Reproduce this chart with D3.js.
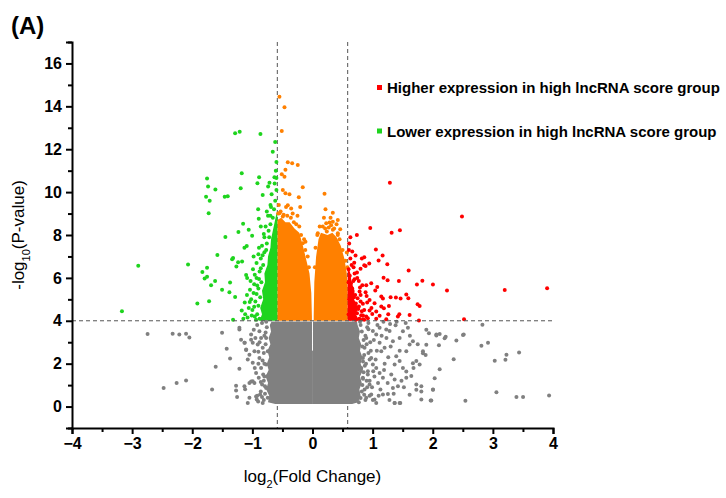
<html>
<head>
  <meta charset="utf-8">
  <script src="https://cdn.jsdelivr.net/npm/d3@7"></script>
  <style>
    body { margin: 0; background: #fff; }
    text { font-family: "Liberation Sans", Arial, sans-serif; }
    .tick text { font-weight: bold; font-size: 16px; }
  </style>
</head>
<body>
<script>
// tick labels
var xTicks = [-4, -3, -2, -1, 0, 1, 2, 3, 4];
var yTicks = [0, 2, 4, 6, 8, 10, 12, 14, 16];

// cut-offs: log2(1.5) and -log10(1e-4)
var fcCut = 0.585;
var pCut = 4;

// dense cores, read as envelopes [y, xLeft, xRight]
var grayCoreLeft = [[0.12,-0.62,0.004],[0.2,-0.74,0.004],[0.5,-0.72,0.004],[0.8,-0.77,0.004],[1.1,-0.74,0.004],
  [1.4,-0.78,0.004],[1.7,-0.73,0.004],[2.0,-0.76,0.004],[2.3,-0.72,0.004],[2.6,-0.75,0.004],[2.6,-0.75,-0.008],
  [2.9,-0.7,-0.008],[3.2,-0.73,-0.008],[3.5,-0.69,-0.008],[3.8,-0.71,-0.008],[3.97,-0.68,-0.008]];
var grayCoreRight = [[0.12,-0.004,0.66],[0.2,-0.004,0.76],[0.5,-0.004,0.8],[0.8,-0.004,0.78],[1.1,-0.004,0.82],
  [1.4,-0.004,0.79],[1.7,-0.004,0.84],[2.0,-0.004,0.8],[2.3,-0.004,0.83],[2.6,-0.004,0.79],[2.6,0.008,0.79],
  [2.9,0.008,0.81],[3.2,0.008,0.77],[3.5,0.008,0.79],[3.8,0.008,0.75],[3.97,0.008,0.74]];
var greenBand = [[4.0,-0.88,-0.585],[4.3,-0.84,-0.585],[4.6,-0.87,-0.585],[5.0,-0.82,-0.585],
  [5.4,-0.84,-0.585],[5.8,-0.79,-0.585],[6.2,-0.8,-0.585],[6.6,-0.75,-0.585],[7.0,-0.74,-0.585],
  [7.4,-0.7,-0.585],[7.8,-0.69,-0.585],[8.2,-0.66,-0.585],[8.6,-0.63,-0.585],[9.0,-0.6,-0.585]];
var redBand = [[4.0,0.585,0.78],[4.3,0.585,0.72],[4.6,0.585,0.76],[5.0,0.585,0.69],[5.4,0.585,0.7],
  [5.8,0.585,0.65],[6.2,0.585,0.63],[6.5,0.585,0.6]];
// orange lobes [x, bottom, top]
var orangeLeft = [[-0.585, 4, 8.7], [-0.52, 4, 8.8], [-0.45, 4, 8.6], [-0.38, 4, 8.6], [-0.3, 4, 8.3],
                  [-0.22, 4, 8.1], [-0.16, 4, 7.5], [-0.1, 4, 6.8], [-0.05, 4, 6.2], [-0.02, 4, 5.3], [-0.01, 4, 4.2]];
var orangeRight = [[0.02, 4, 4.2], [0.03, 4, 5.8], [0.06, 4, 7.0], [0.1, 4, 7.8], [0.14, 4, 8.1], [0.25, 4, 8.0],
                   [0.33, 4, 8.1], [0.4, 4, 7.9], [0.47, 4, 7.5], [0.53, 4, 6.9], [0.57, 4, 6.2], [0.585, 4, 5.5]];

// individual genes [log2FC, -log10 P]
var redPts = [[1.287,10.44],[2.486,8.86],[0.961,8.33],[0.738,8.0],[1.316,8.11],[1.454,8.22],[1.054,7.32],
  [1.166,7.04],[1.099,6.81],[1.244,6.64],[0.861,6.96],[0.821,6.9],[0.944,6.67],[0.861,6.59],[0.883,6.56],
  [0.799,6.43],[0.716,7.04],[0.661,7.23],[0.694,6.71],[0.683,6.5],[1.599,6.34],[1.182,6.01],[1.249,5.89],
  [1.437,5.85],[1.827,5.87],[1.737,5.69],[2.003,5.69],[2.237,5.41],[3.197,5.43],[3.902,5.52],[1.56,5.22],
  [1.594,5.05],[1.748,4.77],[1.782,4.69],[1.615,4.27],[1.77,4.01],[2.52,4.07],[1.299,5.1],[1.387,5.08],
  [1.465,5.04],[1.144,5.13],[1.171,5.04],[1.077,5.57],[1.044,5.41],[0.977,5.75],[0.894,5.66],[0.828,5.66],
  [0.744,5.99],[0.699,5.94],[0.783,5.36],[0.883,5.33],[0.949,4.97],[1.032,4.82],[1.144,4.66],[1.187,4.59],
  [1.271,4.69],[1.26,4.31],[1.42,4.2],[1.444,4.31],[1.06,4.43],[1.116,4.23],[0.994,4.32],[0.894,4.2],
  [0.811,4.26],[0.771,4.66],[0.838,4.79],[0.949,4.48],[1.227,4.07],[1.06,4.1],[0.838,4.07],
  [0.63,4.1],[0.66,4.25],[0.7,4.15],[0.74,4.35],[0.62,4.5],[0.68,4.6],[0.72,4.8],[0.64,4.9],[0.69,5.1],
  [0.62,5.3],[0.66,5.5],[0.71,5.2],[0.75,5.05],[0.64,5.75],[0.68,5.85],[0.62,6.1],[0.65,6.6],[0.63,6.9],
  [0.78,4.1],[0.82,4.45],[0.76,4.55],[0.8,4.9],[0.86,4.05],[0.92,4.12],[0.98,4.6],[0.61,7.6],[0.63,7.9],
  [0.605,7.3],[0.61,5.0],[0.6,4.3],[0.6,5.8],[0.6,6.4],[0.79,5.55],[0.74,6.25],[0.86,4.5],[0.91,4.85],
  [0.8,5.2],[0.77,5.85],[0.7,6.2],[0.9,5.15],[0.72,4.05],[0.84,4.25]];

var greenPts = [[-1.287,12.75],[-1.211,12.81],[-0.866,12.71],[-0.621,12.34],[-0.661,11.88],[-1.754,10.63],
  [-1.737,10.26],[-1.615,10.12],[-1.77,9.78],[-1.71,9.6],[-1.727,9.02],[-1.177,10.88],[-0.888,10.69],
  [-0.916,10.41],[-1.194,10.18],[-1.46,9.78],[-1.41,9.81],[-0.828,9.87],[-0.738,10.26],[-0.716,10.44],
  [-0.633,10.69],[-0.6,10.66],[-0.904,9.2],[-0.894,8.76],[-0.699,9.4],[-2.898,6.57],[-3.169,4.45],
  [-2.07,6.62],[-1.915,4.8],[-1.832,6.27],[-1.754,6.47],[-1.794,5.97],[-1.754,6.05],[-1.687,5.66],
  [-1.62,5.85],[-1.72,4.91],[-1.582,7.07],[-1.449,7.91],[-1.504,5.45],[-1.382,5.33],[-1.371,5.78],
  [-1.337,6.87],[-1.321,6.93],[-1.266,6.53],[-1.237,6.73],[-1.171,6.76],[-1.232,8.14],[-1.154,8.52],
  [-1.061,8.25],[-1.287,5.11],[-1.321,4.05],[-1.177,4.48],[-1.127,4.85],[-1.044,4.88],[-1.132,7.41],
  [-1.094,7.49],[-1.004,7.97],[-1.104,6.13],[-1.087,5.99],
  [-0.88,4.1],[-0.92,4.3],[-0.96,4.2],[-1.0,4.5],[-0.9,4.7],[-0.95,4.9],[-0.87,5.1],[-0.98,5.3],[-0.9,5.5],
  [-0.85,5.8],[-0.93,6.0],[-0.88,6.3],[-0.82,6.6],[-0.86,6.9],[-0.8,7.2],[-0.76,7.6],[-0.8,7.9],[-0.73,8.2],
  [-0.7,8.5],[-0.66,8.8],[-0.64,9.2],[-0.62,9.6],[-0.68,9.9],[-0.6,10.1],[-0.63,10.4],[-1.02,5.0],[-1.06,4.6],
  [-0.97,5.7],[-0.84,7.5],[-0.78,8.4],[-1.08,4.15],[-1.12,4.3],[-1.15,4.1],[-0.99,6.4],[-0.93,6.7],[-0.9,7.1],
  [-0.74,8.9],[-0.69,9.3],[-0.61,11.0],[-0.6,11.4],[-0.94,4.05],[-1.01,4.25],[-0.97,4.65],[-0.93,5.25],
  [-0.89,5.95],[-0.86,6.45],[-0.83,7.05],[-0.77,7.3],[-0.72,7.9],[-0.92,5.65],[-1.04,5.45],[-0.96,6.15],
  [-0.89,7.4],[-0.81,8.05],[-0.86,8.4],[-0.76,9.1],[-0.7,8.9],[-1.09,5.2],[-1.03,5.85],[-0.98,7.0]];

var orangePts = [[-0.55,14.45],[-0.466,13.96],[-0.511,12.85],[-0.411,11.39],[-0.338,11.35],[-0.245,11.27],
  [-0.45,11.04],[-0.511,10.83],[-0.466,10.72],[-0.162,10.23],[-0.494,10.1],[-0.45,9.95],[-0.383,9.9],
  [-0.228,9.76],[0.2,9.92],[-0.411,9.39],[-0.355,9.23],[-0.205,9.3],[0.216,9.2],[0.338,9.04],[0.421,8.7],
  [0.338,8.62],[0.228,8.55],[0.283,8.58],[0.088,8.08],[0.162,7.93],[0.238,8.16],[0.338,8.24],[0.421,8.08],
  [0.461,8.27],[-0.162,7.62],[-0.117,7.69],[0.571,7.18],[-0.55,9.02],[-0.494,8.86],
  [-0.57,9.0],[-0.53,9.1],[-0.48,8.95],[-0.42,8.9],[-0.36,8.8],[-0.31,8.6],[-0.27,8.5],[-0.22,8.4],
  [-0.19,8.0],[-0.14,7.8],[-0.12,7.3],[-0.08,7.0],[-0.06,6.5],[-0.56,9.4],[-0.44,9.3],[-0.33,9.0],[-0.25,8.9],
  [0.05,7.4],[0.08,8.0],[0.12,8.4],[0.17,8.4],[0.21,8.3],[0.27,8.35],[0.31,8.45],[0.36,8.3],[0.42,8.0],
  [0.45,7.8],[0.5,7.3],[0.55,6.8],[0.58,6.5],[0.04,6.5],[0.19,8.8],[0.3,8.8],[0.4,8.5]];

var grayPts = [[-2.743,3.38],[-2.326,3.4],[-2.215,3.36],[-2.103,3.39],[-2.048,3.22],[-1.504,3.44],[-1.427,2.69],
  [-1.371,2.24],[-1.61,1.86],[-1.216,1.76],[-2.103,1.21],[-2.26,1.1],[-2.476,0.87],[-1.67,0.79],[-1.271,0.97],
  [-1.271,0.75],[-1.254,0.44],[-1.121,0.81],[-1.021,1.17],[-1.216,3.67],[-1.127,2.98],[-1.104,2.64],
  [-1.021,3.11],[-0.977,3.58],[-0.904,0.23],[-0.938,0.47],
  [1.893,3.58],[1.937,3.42],[2.06,3.31],[2.115,3.38],[2.198,3.19],[2.393,3.08],[2.503,3.34],[2.826,3.81],
  [2.809,2.83],[2.919,2.98],[2.348,2.21],[2.115,1.74],[2.032,1.32],[2.004,0.78],[1.81,0.7],[1.965,0.28],
  [3.031,2.14],[3.209,2.18],[3.226,2.41],[3.436,2.52],[3.059,0.67],[2.543,0.27],[3.392,0.44],[3.502,0.44],
  [3.935,0.51],[1.893,2.88],[1.837,2.49],[1.67,2.02],[1.56,1.63],[1.727,0.78],[1.615,0.55],[1.366,0.16],
  [1.449,0.16],[1.06,0.16],[1.004,0.31],[2.06,3.36],[2.103,2.86],[2.215,3.25],[2.515,3.36],[1.837,2.58],
  [1.882,2.4],[1.727,2.12],[1.782,1.96],[1.615,2.89],[1.67,3.05],[1.56,2.58],[1.504,3.51],[1.587,3.67],
  [1.449,3.2],[1.382,3.79],[1.282,3.52],[1.337,3.05],[1.227,3.59],[1.393,2.35],[1.449,2.12],[1.366,1.96],
  [1.504,1.8],[1.56,1.34],[1.643,1.42],[1.727,1.03],[1.81,0.95],[1.366,1.26],[1.421,0.95],[1.337,0.87],
  [2.004,0.79],[1.81,0.33],[1.976,0.28],[1.171,0.56],[1.254,0.59],[1.366,0.17],[1.46,0.16],[1.116,1.57],
  [1.171,1.34],[1.06,1.8],[1.144,2.58],[1.199,2.74],[1.116,2.97],[1.06,3.36],[1.116,3.67],[1.004,3.52],
  [0.977,2.27],[1.004,1.96],[0.921,1.65],[0.949,1.03],[0.977,0.56],[1.032,0.33],[0.894,3.2],[0.866,2.74],
  [0.838,2.27],[0.811,1.8],[0.838,1.34],[0.866,0.79],[0.894,0.41],
  [-1.216,3.59],[-1.132,0.95],[-1.049,1.1],[-0.994,1.18],[-1.188,3.12],[-1.132,2.97],[-1.104,2.66],
  [-1.021,3.36],[-0.994,2.97],[-1.077,2.19],[-1.049,2.42],[-0.966,2.58],[-0.994,2.04],[-0.883,3.51],
  [-0.855,3.2],[-0.911,2.89],[-0.828,2.74],[-0.883,2.27],[-0.855,1.8],[-0.894,1.34],[-0.838,1.03],
  [-0.871,0.56],[-0.828,0.17],[-0.771,3.2],[-0.744,2.58],[-0.771,1.96],[-0.744,1.42],[-0.771,0.87],
  [-0.744,0.41],[-0.938,1.57],[-0.966,1.1],[-0.927,0.33],[-1.049,0.41],[-1.077,0.17],
  [-0.76,3.7],[-0.8,3.3],[-0.78,2.9],[-0.81,2.5],[-0.8,2.0],[-0.82,1.5],[-0.81,1.2],[-0.79,0.6],[-0.81,0.3],
  [-0.84,3.9],[-0.88,3.0],[-0.9,2.0],[-0.86,0.7],[-0.92,0.5],[-0.77,3.95],[-0.8,1.4],[-0.78,3.45],
  [-0.83,2.15],[-0.86,1.15],[-0.79,0.95],[-0.84,0.45],[-0.92,3.8],[-0.95,3.2],[-0.9,2.55],[-0.96,1.8],
  [0.8,3.8],[0.82,3.5],[0.85,3.1],[0.83,2.8],[0.86,2.4],[0.84,2.1],[0.87,1.9],[0.85,1.6],[0.84,1.3],
  [0.83,1.0],[0.82,0.7],[0.8,0.4],[0.77,0.2],[0.79,3.95],[0.88,3.3],[0.91,3.7],[0.9,2.9],[0.93,2.5],
  [0.89,2.0],[0.92,1.5],[0.9,1.2],[0.86,0.55],[0.88,0.3],[0.93,3.9],[0.96,3.0],[0.95,2.2],[0.91,0.9],
  [0.95,0.5],[0.93,3.6],[0.97,2.6],[0.95,1.2],[0.99,0.9],[1.03,1.4],[1.05,2.2],[1.08,3.8],[1.1,0.5],
  [1.15,3.3],[1.2,2.0],[1.25,1.1],[1.3,2.8],[1.28,0.3],[1.45,2.6],[1.52,0.9],[1.62,3.3],[1.68,1.8],
  [1.75,2.9],[1.4,3.95],[1.55,3.9],[1.02,3.1],[1.07,2.6],[1.01,1.65],[1.09,1.1],[1.13,0.8],[1.18,3.95],
  [1.23,3.2],[1.26,2.3],[1.19,1.7],[1.31,1.5],[1.35,0.6],[1.48,1.2],[1.29,3.85]];

var legendItems = ["Higher expression in high lncRNA score group", "Lower expression in high lncRNA score group"];
var colors = { red: "#ff0000", green: "#1ed41e", orange: "#ff8000", gray: "#808080" };

var W = 726, H = 498;
var svg = d3.select("body").append("svg").attr("width", W).attr("height", H);

var x = d3.scaleLinear().domain([-4, 4]).range([72, 553]);
var y = d3.scaleLinear().domain([-1, 17]).range([428, 42]);

// threshold lines (under the points)
var dash = "4,3";
[-fcCut, fcCut].forEach(function(v) {
  svg.append("line").attr("x1", x(v)).attr("x2", x(v)).attr("y1", y(17)).attr("y2", y(-1))
    .attr("stroke", "#555").attr("stroke-width", 1).attr("stroke-dasharray", dash);
});

// dense cores
var bandY = d3.area().y(function(d) { return y(d[0]); })
  .x0(function(d) { return x(d[1]); }).x1(function(d) { return x(d[2]); });
var bandX = d3.area().x(function(d) { return x(d[0]); })
  .y0(function(d) { return y(d[1]); }).y1(function(d) { return y(d[2]); });
svg.append("path").datum(grayCoreLeft).attr("d", bandY).attr("fill", colors.gray);
svg.append("path").datum(grayCoreRight).attr("d", bandY).attr("fill", colors.gray);
svg.append("path").datum(orangeLeft).attr("d", bandX).attr("fill", colors.orange);
svg.append("path").datum(orangeRight).attr("d", bandX).attr("fill", colors.orange);
svg.append("path").datum(greenBand).attr("d", bandY).attr("fill", colors.green);
svg.append("path").datum(redBand).attr("d", bandY).attr("fill", colors.red);

function dots(data, c) {
  svg.append("g").selectAll("circle").data(data).join("circle")
    .attr("cx", function(d) { return x(d[0]); })
    .attr("cy", function(d) { return y(d[1]); })
    .attr("r", 2).attr("fill", c);
}
dots(grayPts, colors.gray);
dots(orangePts, colors.orange);
dots(greenPts, colors.green);
dots(redPts, colors.red);

svg.append("line").attr("x1", x(-4)).attr("x2", x(4)).attr("y1", y(pCut)).attr("y2", y(pCut))
  .attr("stroke", "#555").attr("stroke-width", 1).attr("stroke-dasharray", dash);

// axes
svg.append("g").attr("transform", "translate(0," + y(-1) + ")")
  .call(d3.axisBottom(x).tickValues(xTicks).tickFormat(d3.format("d")).tickSize(6).tickPadding(4));
svg.append("g").attr("transform", "translate(0," + y(-1) + ")")
  .call(d3.axisBottom(x).tickValues(d3.range(-3.5, 4, 1)).tickFormat("").tickSize(4))
  .select(".domain").remove();
svg.append("g").attr("transform", "translate(" + x(-4) + ",0)")
  .call(d3.axisLeft(y).tickValues(yTicks).tickSize(6).tickPadding(4));
svg.append("g").attr("transform", "translate(" + x(-4) + ",0)")
  .call(d3.axisLeft(y).tickValues(d3.range(-1, 18, 2)).tickFormat("").tickSize(4))
  .select(".domain").remove();
svg.selectAll(".domain").attr("stroke", "#000").attr("stroke-width", 2);
svg.selectAll(".tick line").attr("stroke", "#000").attr("stroke-width", 2);
svg.selectAll(".tick text").attr("fill", "#000");

// axis titles
var xt = svg.append("text").attr("x", x(0)).attr("y", 482).attr("text-anchor", "middle")
  .style("font-size", "17px");
xt.append("tspan").text("log");
xt.append("tspan").attr("baseline-shift", "sub").style("font-size", "11px").text("2");
xt.append("tspan").text("(Fold Change)");

var yt = svg.append("text").attr("transform", "translate(24," + y(8) + ") rotate(-90)")
  .attr("text-anchor", "middle").style("font-size", "17px");
yt.append("tspan").text("-log");
yt.append("tspan").attr("baseline-shift", "sub").style("font-size", "11px").text("10");
yt.append("tspan").text("(P-value)");

svg.append("text").attr("x", 11).attr("y", 34).style("font-size", "24px").style("font-weight", "bold")
  .text("(A)");

// legend
var lg = svg.append("g").selectAll("g").data(legendItems).join("g")
  .attr("transform", function(d, i) { return "translate(377," + (88 + i * 43.5) + ")"; });
lg.append("rect").attr("x", 0).attr("y", -3).attr("width", 5).attr("height", 5)
  .attr("fill", function(d, i) { return i === 0 ? colors.red : colors.green; });
lg.append("text").attr("x", 10).attr("y", 5).style("font-size", "15px").style("font-weight", "bold")
  .text(function(d) { return d; });
</script>
</body>
</html>
